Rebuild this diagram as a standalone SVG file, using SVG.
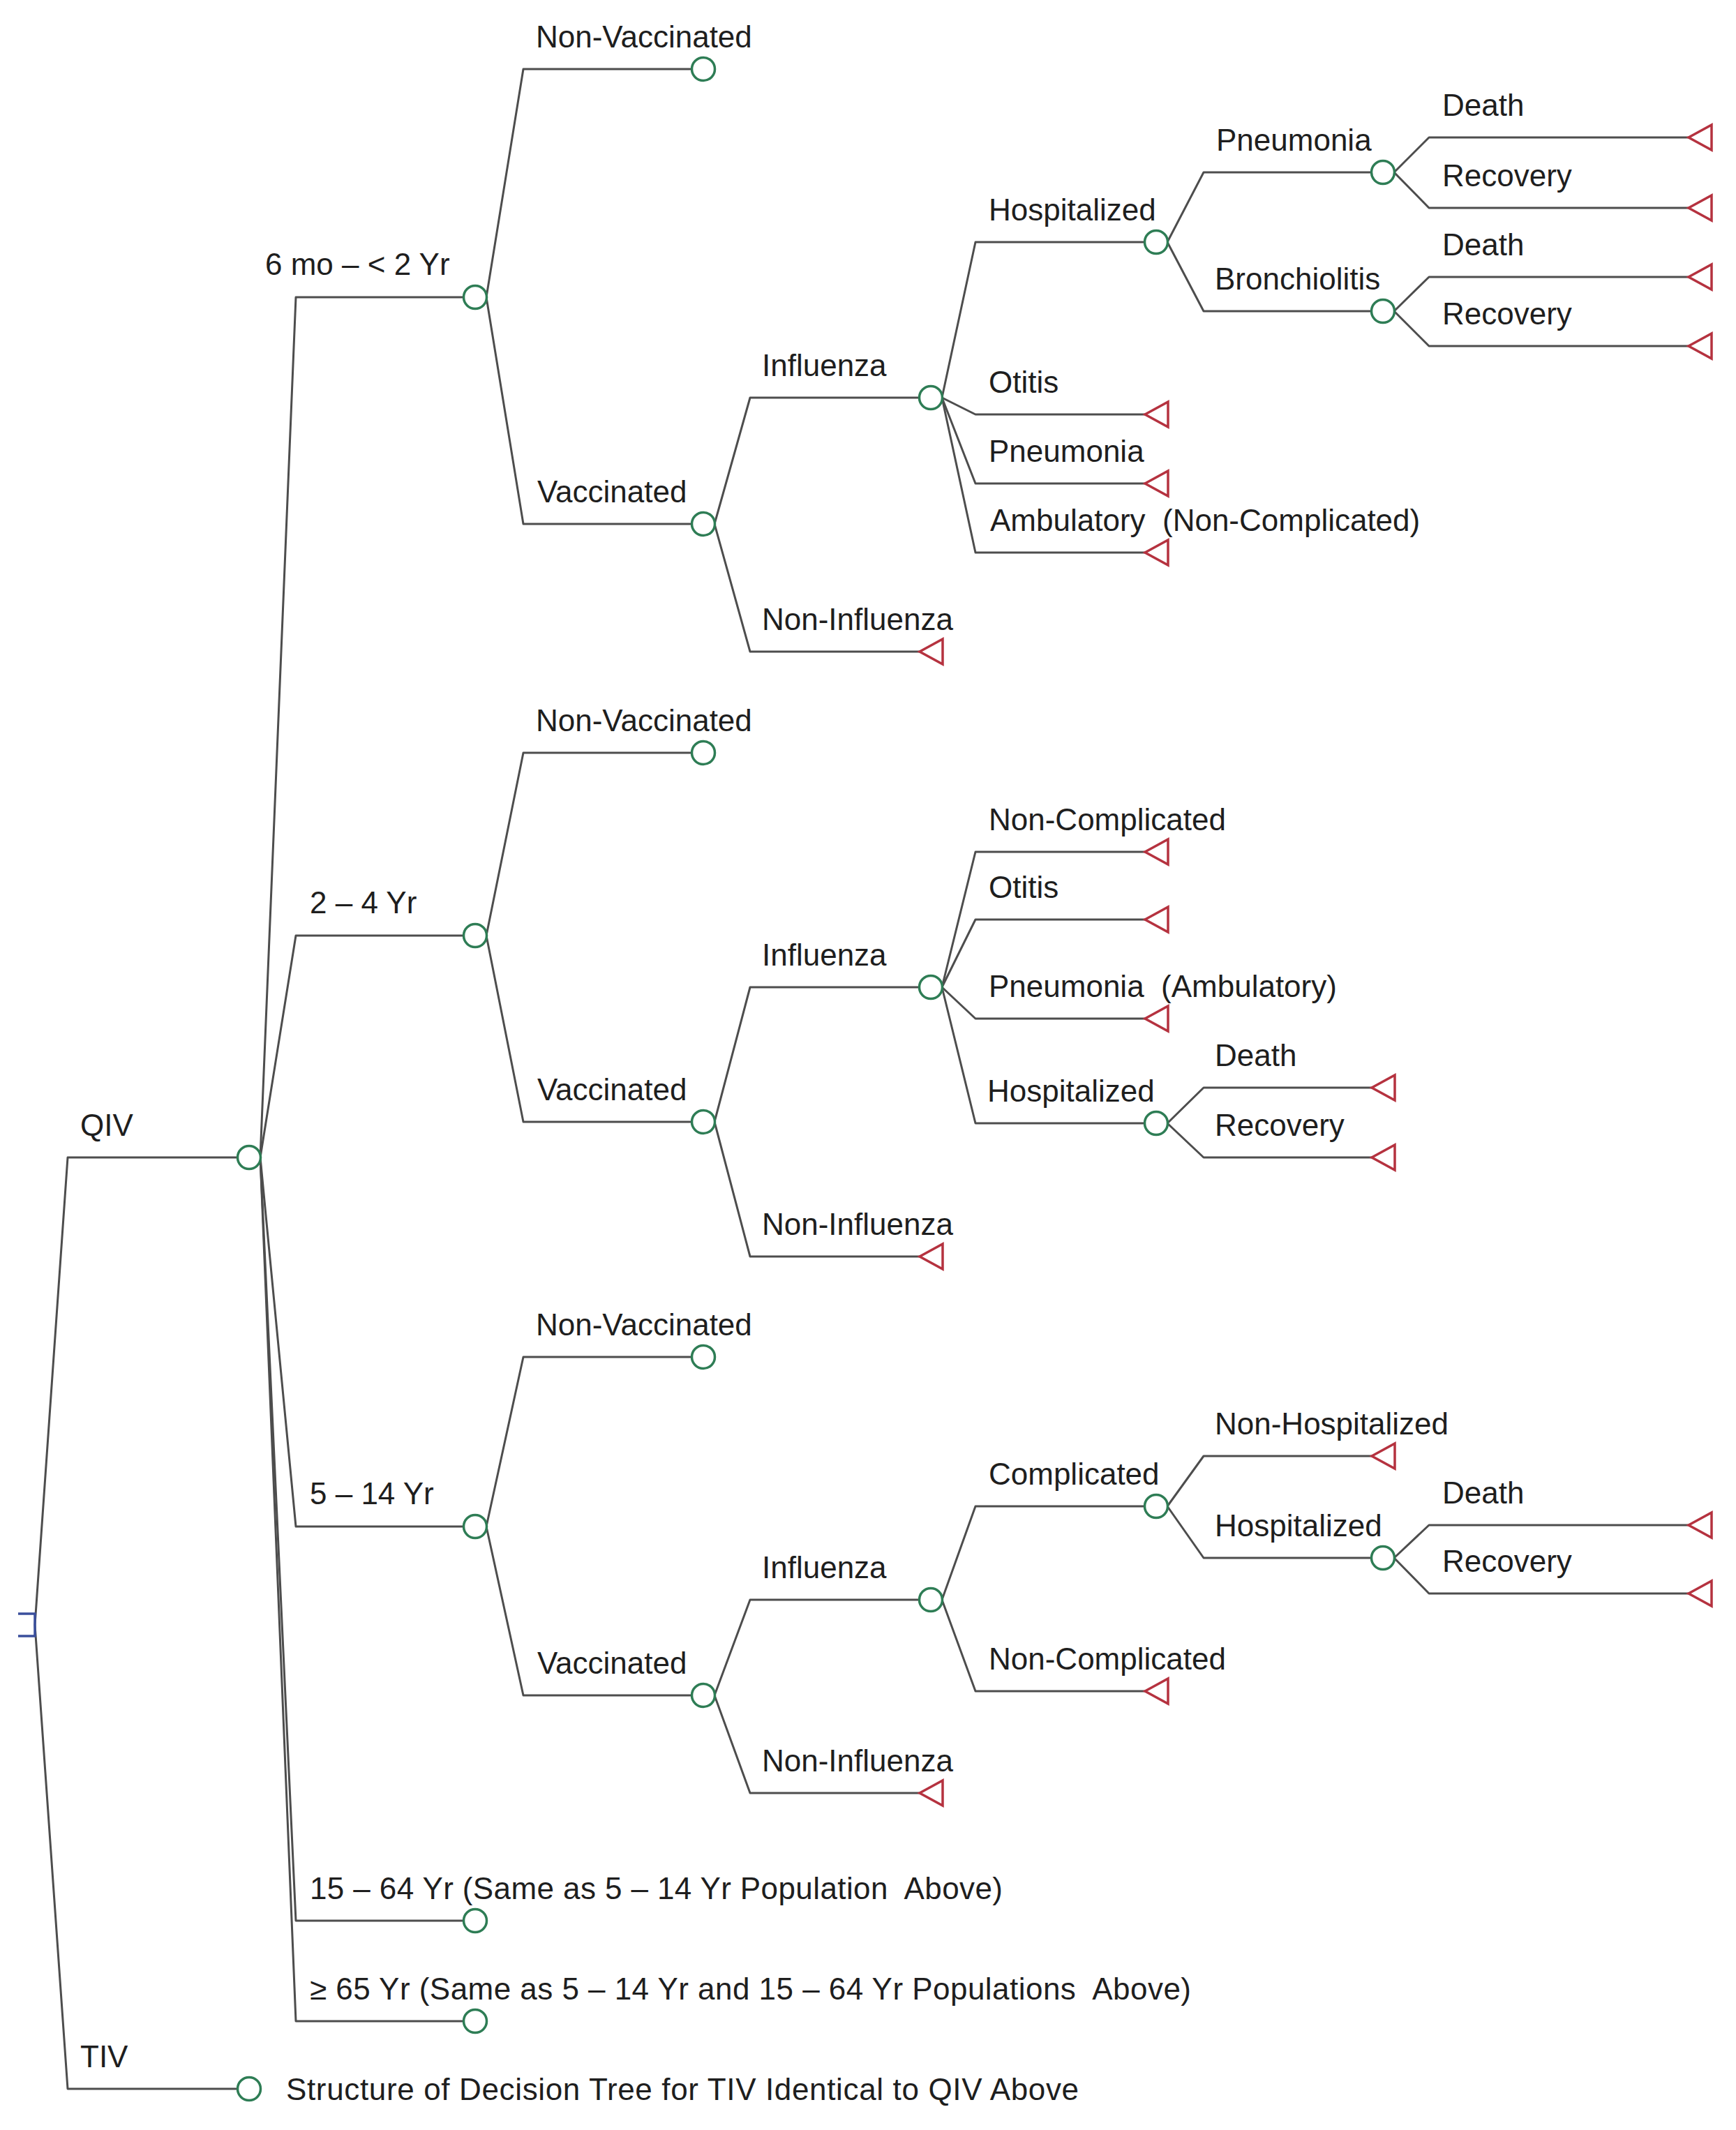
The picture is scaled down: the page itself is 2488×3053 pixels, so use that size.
<svg xmlns="http://www.w3.org/2000/svg" width="2488" height="3053" viewBox="0 0 2488 3053" xml:space="preserve">
<style>
.ln{fill:none;stroke:#4d4d4d;stroke-width:3;stroke-linejoin:round}
.ch{fill:#fff;stroke:#2e7d55;stroke-width:3.5}
.tm{fill:#fff;stroke:#b5323f;stroke-width:3.5;stroke-linejoin:miter}
.dc{fill:none;stroke:#3a4f9c;stroke-width:3.5}
.lb{font-family:"Liberation Sans",Arial,sans-serif;font-size:44px;fill:#1e1e1e;white-space:pre}
</style>
<rect width="2488" height="3053" fill="#fff"/>
<g id="connectors">
<path class="ln" d="M50 2329 L97 1659 H341"/>
<path class="ln" d="M50 2329 L97 2994 H341"/>
<path class="ln" d="M373 1659 L424 426 H665"/>
<path class="ln" d="M373 1659 L424 1341 H665"/>
<path class="ln" d="M373 1659 L424 2188 H665"/>
<path class="ln" d="M373 1659 L424 2753 H665"/>
<path class="ln" d="M373 1659 L424 2897 H665"/>
<path class="ln" d="M697 426 L750 99 H992"/>
<path class="ln" d="M697 426 L750 751 H992"/>
<path class="ln" d="M1024 751 L1075 570 H1318"/>
<path class="ln" d="M1024 751 L1075 934 H1318"/>
<path class="ln" d="M1350 570 L1398 347 H1641"/>
<path class="ln" d="M1350 570 L1398 594 H1641"/>
<path class="ln" d="M1350 570 L1398 693 H1641"/>
<path class="ln" d="M1350 570 L1398 792 H1641"/>
<path class="ln" d="M1673 347 L1725 247 H1966"/>
<path class="ln" d="M1673 347 L1725 446 H1966"/>
<path class="ln" d="M1998 247 L2048 197 H2420"/>
<path class="ln" d="M1998 247 L2048 298 H2420"/>
<path class="ln" d="M1998 446 L2048 397 H2420"/>
<path class="ln" d="M1998 446 L2048 496 H2420"/>
<path class="ln" d="M697 1341 L750 1079 H992"/>
<path class="ln" d="M697 1341 L750 1608 H992"/>
<path class="ln" d="M1024 1608 L1075 1415 H1318"/>
<path class="ln" d="M1024 1608 L1075 1801 H1318"/>
<path class="ln" d="M1350 1415 L1398 1221 H1641"/>
<path class="ln" d="M1350 1415 L1398 1318 H1641"/>
<path class="ln" d="M1350 1415 L1398 1460 H1641"/>
<path class="ln" d="M1350 1415 L1398 1610 H1641"/>
<path class="ln" d="M1673 1610 L1725 1559 H1966"/>
<path class="ln" d="M1673 1610 L1725 1659 H1966"/>
<path class="ln" d="M697 2188 L750 1945 H992"/>
<path class="ln" d="M697 2188 L750 2430 H992"/>
<path class="ln" d="M1024 2430 L1075 2293 H1318"/>
<path class="ln" d="M1024 2430 L1075 2570 H1318"/>
<path class="ln" d="M1350 2293 L1398 2159 H1641"/>
<path class="ln" d="M1350 2293 L1398 2424 H1641"/>
<path class="ln" d="M1673 2159 L1725 2087 H1966"/>
<path class="ln" d="M1673 2159 L1725 2233 H1966"/>
<path class="ln" d="M1998 2233 L2048 2186 H2420"/>
<path class="ln" d="M1998 2233 L2048 2284 H2420"/>
</g>
<g id="root"><path class="dc" d="M26 2313 H50 V2345 H26"/></g>
<g id="qiv"><circle class="ch" cx="357" cy="1659" r="16.5"/><text class="lb" x="115" y="1628">QIV</text></g>
<g id="tiv"><circle class="ch" cx="357" cy="2994" r="16.5"/><text class="lb" x="115" y="2963">TIV</text><text class="lb" x="410" y="3010" textLength="1136" lengthAdjust="spacing">Structure of Decision Tree for TIV Identical to QIV Above</text></g>
<g id="age1"><circle class="ch" cx="681" cy="426" r="16.5"/><text class="lb" x="380" y="394">6 mo – &lt; 2 Yr</text></g>
<g id="age2"><circle class="ch" cx="681" cy="1341" r="16.5"/><text class="lb" x="444" y="1309">2 – 4 Yr</text></g>
<g id="age3"><circle class="ch" cx="681" cy="2188" r="16.5"/><text class="lb" x="444" y="2156">5 – 14 Yr</text></g>
<g id="age4"><circle class="ch" cx="681" cy="2753" r="16.5"/><text class="lb" x="444" y="2722" textLength="993" lengthAdjust="spacing">15 – 64 Yr (Same as 5 – 14 Yr Population  Above)</text></g>
<g id="age5"><circle class="ch" cx="681" cy="2897" r="16.5"/><text class="lb" x="444" y="2866" textLength="1263" lengthAdjust="spacing">≥ 65 Yr (Same as 5 – 14 Yr and 15 – 64 Yr Populations  Above)</text></g>
<g id="a1_nv"><circle class="ch" cx="1008" cy="99" r="16.5"/><text class="lb" x="768" y="68">Non-Vaccinated</text></g>
<g id="a1_v"><circle class="ch" cx="1008" cy="751" r="16.5"/><text class="lb" x="770" y="720">Vaccinated</text></g>
<g id="a1_flu"><circle class="ch" cx="1334" cy="570" r="16.5"/><text class="lb" x="1092" y="539">Influenza</text></g>
<g id="a1_nonflu"><path class="tm" d="M1318 934 L1351 916 L1351 952 Z"/><text class="lb" x="1092" y="903">Non-Influenza</text></g>
<g id="a1_hosp"><circle class="ch" cx="1657" cy="347" r="16.5"/><text class="lb" x="1417" y="316">Hospitalized</text></g>
<g id="a1_otitis"><path class="tm" d="M1641 594 L1674 576 L1674 612 Z"/><text class="lb" x="1417" y="563">Otitis</text></g>
<g id="a1_pneu"><path class="tm" d="M1641 693 L1674 675 L1674 711 Z"/><text class="lb" x="1417" y="662">Pneumonia</text></g>
<g id="a1_amb"><path class="tm" d="M1641 792 L1674 774 L1674 810 Z"/><text class="lb" x="1419" y="761">Ambulatory  (Non-Complicated)</text></g>
<g id="a1_h_pneu"><circle class="ch" cx="1982" cy="247" r="16.5"/><text class="lb" x="1743" y="216">Pneumonia</text></g>
<g id="a1_h_bron"><circle class="ch" cx="1982" cy="446" r="16.5"/><text class="lb" x="1741" y="415">Bronchiolitis</text></g>
<g id="a1_hp_death"><path class="tm" d="M2420 197 L2453 179 L2453 215 Z"/><text class="lb" x="2067" y="166">Death</text></g>
<g id="a1_hp_rec"><path class="tm" d="M2420 298 L2453 280 L2453 316 Z"/><text class="lb" x="2067" y="267">Recovery</text></g>
<g id="a1_hb_death"><path class="tm" d="M2420 397 L2453 379 L2453 415 Z"/><text class="lb" x="2067" y="366">Death</text></g>
<g id="a1_hb_rec"><path class="tm" d="M2420 496 L2453 478 L2453 514 Z"/><text class="lb" x="2067" y="465">Recovery</text></g>
<g id="a2_nv"><circle class="ch" cx="1008" cy="1079" r="16.5"/><text class="lb" x="768" y="1048">Non-Vaccinated</text></g>
<g id="a2_v"><circle class="ch" cx="1008" cy="1608" r="16.5"/><text class="lb" x="770" y="1577">Vaccinated</text></g>
<g id="a2_flu"><circle class="ch" cx="1334" cy="1415" r="16.5"/><text class="lb" x="1092" y="1384">Influenza</text></g>
<g id="a2_nonflu"><path class="tm" d="M1318 1801 L1351 1783 L1351 1819 Z"/><text class="lb" x="1092" y="1770">Non-Influenza</text></g>
<g id="a2_noncomp"><path class="tm" d="M1641 1221 L1674 1203 L1674 1239 Z"/><text class="lb" x="1417" y="1190">Non-Complicated</text></g>
<g id="a2_otitis"><path class="tm" d="M1641 1318 L1674 1300 L1674 1336 Z"/><text class="lb" x="1417" y="1287">Otitis</text></g>
<g id="a2_pneu"><path class="tm" d="M1641 1460 L1674 1442 L1674 1478 Z"/><text class="lb" x="1417" y="1429">Pneumonia  (Ambulatory)</text></g>
<g id="a2_hosp"><circle class="ch" cx="1657" cy="1610" r="16.5"/><text class="lb" x="1415" y="1579">Hospitalized</text></g>
<g id="a2_death"><path class="tm" d="M1966 1559 L1999 1541 L1999 1577 Z"/><text class="lb" x="1741" y="1528">Death</text></g>
<g id="a2_rec"><path class="tm" d="M1966 1659 L1999 1641 L1999 1677 Z"/><text class="lb" x="1741" y="1628">Recovery</text></g>
<g id="a3_nv"><circle class="ch" cx="1008" cy="1945" r="16.5"/><text class="lb" x="768" y="1914">Non-Vaccinated</text></g>
<g id="a3_v"><circle class="ch" cx="1008" cy="2430" r="16.5"/><text class="lb" x="770" y="2399">Vaccinated</text></g>
<g id="a3_flu"><circle class="ch" cx="1334" cy="2293" r="16.5"/><text class="lb" x="1092" y="2262">Influenza</text></g>
<g id="a3_nonflu"><path class="tm" d="M1318 2570 L1351 2552 L1351 2588 Z"/><text class="lb" x="1092" y="2539">Non-Influenza</text></g>
<g id="a3_comp"><circle class="ch" cx="1657" cy="2159" r="16.5"/><text class="lb" x="1417" y="2128">Complicated</text></g>
<g id="a3_noncomp"><path class="tm" d="M1641 2424 L1674 2406 L1674 2442 Z"/><text class="lb" x="1417" y="2393">Non-Complicated</text></g>
<g id="a3_nonhosp"><path class="tm" d="M1966 2087 L1999 2069 L1999 2105 Z"/><text class="lb" x="1741" y="2056">Non-Hospitalized</text></g>
<g id="a3_hosp"><circle class="ch" cx="1982" cy="2233" r="16.5"/><text class="lb" x="1741" y="2202">Hospitalized</text></g>
<g id="a3_death"><path class="tm" d="M2420 2186 L2453 2168 L2453 2204 Z"/><text class="lb" x="2067" y="2155">Death</text></g>
<g id="a3_rec"><path class="tm" d="M2420 2284 L2453 2266 L2453 2302 Z"/><text class="lb" x="2067" y="2253">Recovery</text></g>
</svg>
